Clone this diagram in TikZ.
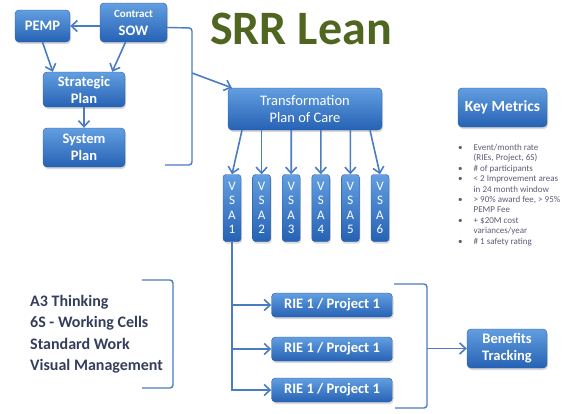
\documentclass[tikz,border=0pt]{standalone}
\usepackage{fontspec}
\setmainfont{Carlito}
\usetikzlibrary{positioning,arrows.meta,calc,shadows}
\definecolor{boxtop}{RGB}{98,158,224}
\definecolor{boxbot}{RGB}{38,98,180}
\definecolor{boxedge}{RGB}{45,90,160}
\definecolor{wire}{RGB}{74,124,196}
\definecolor{titlegreen}{RGB}{80,102,32}
\definecolor{slate}{RGB}{52,62,92}
\definecolor{note}{RGB}{92,92,118}
\tikzset{
  blk/.style={draw=boxedge, thin, rounded corners=4pt, top color=boxtop, bottom color=boxbot,
              text=white, align=center, inner sep=0pt,
              font=\fontsize{14.5}{17}\selectfont\bfseries,
              drop shadow={shadow xshift=1pt, shadow yshift=-2pt, opacity=0.3}},
  vsa/.style={blk, rounded corners=3pt, minimum width=18pt, minimum height=67pt,
              font=\fontsize{13}{14.5}\selectfont},
  rie/.style={blk, minimum width=121pt, minimum height=24pt},
  arr/.style={-{Straight Barb[length=6pt, width=11pt, line width=1.6pt]}, line width=1.6pt, draw=wire},
  brk/.style={line width=1.4pt, draw=wire, rounded corners=3pt},
  lbl/.style={anchor=north west, inner sep=0pt, align=left},
}

\begin{document}
\begin{tikzpicture}[x=1pt, y=-1pt]
  \useasboundingbox (0,0) rectangle (581,413);

  % title
  \node[text=titlegreen, font=\fontsize{48}{52}\selectfont\bfseries] (title) at (301,29) {SRR Lean};

  % planning boxes
  \node[blk, minimum width=55pt, minimum height=32pt] (pemp) at (42.5,26) {PEMP};
  \node[blk, minimum width=67pt, minimum height=39pt] (sow) at (133.5,22.5)
    {{\fontsize{11}{12}\selectfont Contract}\\[1pt] SOW};
  \node[blk, minimum width=82pt, minimum height=35pt] (strat) at (84,89.5) {Strategic\\Plan};
  \node[blk, minimum width=82pt, minimum height=39pt] (sys) at (84,147.5) {System\\Plan};

  \draw[arr] (pemp.east -| sow.west) -- (pemp.east);
  \draw[arr] (pemp.south) -- ($(strat.north west)+(10,0)$);
  \draw[arr] ($(sow.south)+(-8,0)$) -- ($(strat.north east)+(-13,0)$);
  \draw[arr] (strat) -- (sys);

  % bracket round the planning boxes
  \coordinate (sowbrk) at (192,28);
  \coordinate (sowend) at (165,165);
  \coordinate (sowmid) at (192,73);
  \draw[brk] ($(sow.east)+(0,5)$) -- (sowbrk) |- (sowend);

  \node[blk, minimum width=154pt, minimum height=42pt, font=\fontsize{14.5}{16.7}\selectfont] (trans)
    at (305,109) {Transformation\\Plan of Care};
  \draw[arr] (sowmid) -- ($(trans.north west)+(4,0)$);

  % value streams
  \foreach \i/\dx in {1/-63, 2/-43.4, 3/-13.8, 4/15.8, 5/45.4, 6/65} {
    \node[vsa] (vsa\i) at ({232+29.6*(\i-1)},208) {V\\S\\A\\\i};
    \draw[arr] ($(trans.south)+(\dx,0)$) -- (vsa\i.north);
  }

  % improvement events
  \node[rie] (rie1) at (332,305) {RIE 1 / Project 1};
  \node[rie] (rie2) at (332,349) {RIE 1 / Project 1};
  \node[rie] (rie3) at (332,390) {RIE 1 / Project 1};
  \draw[arr] (vsa1.south) |- (rie3.west);
  \draw[arr] (vsa1.south |- rie1.west) -- (rie1.west);
  \draw[arr] (vsa1.south |- rie2.west) -- (rie2.west);

  \coordinate (rb1) at (394,284);
  \coordinate (rb2) at (427,284);
  \coordinate (rb3) at (395,408);
  \draw[brk] (rb1) -- (rb2) |- (rb3);

  \node[blk, minimum width=80pt, minimum height=39pt] (ben) at (507,348.5) {Benefits\\Tracking};
  \draw[arr] (ben.west -| rb2) -- (ben.west);

  % metrics
  \node[blk, minimum width=89pt, minimum height=39pt, font=\fontsize{15.5}{17}\selectfont\bfseries] (key)
    at (502.5,107.5) {Key Metrics};
  \node[lbl, text=note, font=\fontsize{9}{10.4}\selectfont] (metrics) at (458,143) {%
    \begin{tabular}{@{}l@{\hspace{11pt}}l@{}}
      \textbullet & Event/month rate\\
                  & (RIEs, Project, 6S)\\
      \textbullet & \# of participants\\
      \textbullet & < 2 Improvement areas\\
                  & in 24 month window\\
      \textbullet & > 90\% award fee, > 95\%\\
                  & PEMP Fee\\
      \textbullet & + \$20M cost\\
                  & variances/year\\
      \textbullet & \# 1 safety rating
    \end{tabular}};

  % lean tools
  \node[lbl, text=slate, font=\fontsize{16}{21.5}\selectfont\bfseries] (tools) at (30,295)
    {A3 Thinking\\6S - Working Cells\\Standard Work\\Visual Management};
  \coordinate (lb1) at (142,280);
  \coordinate (lb2) at (173,280);
  \coordinate (lb3) at (142,388);
  \draw[brk] (lb1) -- (lb2) |- (lb3);
\end{tikzpicture}
\end{document}
